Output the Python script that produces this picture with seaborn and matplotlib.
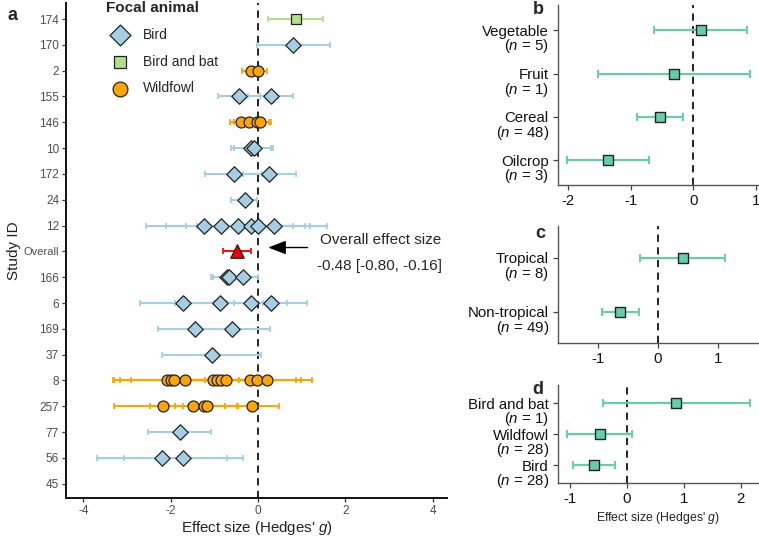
import matplotlib

matplotlib.use("Agg")

import matplotlib.pyplot as plt
import numpy as np
import pandas as pd
import seaborn as sns


# ---- panel a: study level effect sizes ----
STUDY_ROWS = ["174", "170", "2", "155", "146", "10", "172", "24", "12", "Overall",
              "166", "6", "169", "37", "8", "257", "77", "56", "45"]

point_study = (["174", "170", "2", "2", "155", "155"]
               + ["146"] * 4 + ["10", "10", "172", "172", "24"] + ["12"] * 6
               + ["166"] * 3 + ["6"] * 4 + ["169", "169", "37"] + ["8"] * 11
               + ["257"] * 5 + ["77", "56", "56"])
point_animal = (["Bird and bat", "Bird", "Wildfowl", "Wildfowl", "Bird", "Bird"]
                + ["Wildfowl"] * 4 + ["Bird"] * 5 + ["Bird"] * 6
                + ["Bird"] * 3 + ["Bird"] * 4 + ["Bird"] * 3 + ["Wildfowl"] * 11
                + ["Wildfowl"] * 5 + ["Bird"] * 3)
point_g = [0.86, 0.81, -0.15, 0.00, -0.43, 0.29,
           -0.38, -0.20, -0.03, 0.04, -0.15, -0.10, -0.56, 0.25, -0.31,
           -1.23, -0.86, -0.45, -0.17, 0.00, 0.37,
           -0.72, -0.67, -0.35, -1.71, -0.88, -0.16, 0.29,
           -1.44, -0.59, -1.06,
           -2.08, -2.00, -1.92, -1.67, -1.04, -0.94, -0.84, -0.74, -0.18, -0.03, 0.20,
           -2.17, -1.49, -1.24, -1.17, -0.13,
           -1.79, -2.20, -1.71]
point_lo = [0.23, -0.03, -0.36, -0.20, -0.92, -0.22,
            -0.65, -0.55, -0.30, -0.25, -0.61, -0.55, -1.22, -0.35, -0.61,
            -2.57, -2.12, -1.66, -1.40, -1.19, -0.85,
            -1.07, -1.04, -0.70, -2.70, -1.90, -1.00, -0.56,
            -2.30, -1.45, -2.19,
            -3.33, -3.29, -3.16, -2.91, -2.10, -1.95, -1.90, -1.80, -1.22, -1.05, -0.84,
            -3.29, -2.48, -1.73, -1.90, -0.75,
            -2.52, -3.69, -3.07]
point_hi = [1.50, 1.66, 0.05, 0.21, 0.05, 0.79,
            -0.10, 0.15, 0.25, 0.30, 0.30, 0.34, 0.10, 0.88, -0.03,
            0.11, 0.40, 0.79, 1.07, 1.19, 1.59,
            -0.37, -0.30, 0.00, -0.72, 0.12, 0.67, 1.13,
            -0.58, 0.27, 0.06,
            -0.83, -0.71, -0.68, -0.43, 0.02, 0.07, 0.22, 0.32, 0.86, 0.98, 1.24,
            -1.05, -0.49, -0.75, -0.45, 0.48,
            -1.07, -0.71, -0.35]

overall_g = -0.48
overall_lo = -0.80
overall_hi = -0.16

# ---- panels b-d: moderator estimates ----
crop_labels = ["Vegetable", "Fruit", "Cereal", "Oilcrop"]
crop_n = [5, 1, 48, 3]
crop_g = [0.12, -0.31, -0.53, -1.36]
crop_lo = [-0.63, -1.52, -0.90, -2.02]
crop_hi = [0.86, 0.90, -0.17, -0.71]

climate_labels = ["Tropical", "Non-tropical"]
climate_n = [8, 49]
climate_g = [0.41, -0.62]
climate_lo = [-0.30, -0.92]
climate_hi = [1.12, -0.31]

animal_labels = ["Bird and bat", "Wildfowl", "Bird"]
animal_n = [1, 28, 28]
animal_g = [0.86, -0.47, -0.57]
animal_lo = [-0.42, -1.05, -0.94]
animal_hi = [2.17, 0.09, -0.21]

ANIMAL_STYLE = {
    "Bird": {"face": "#A6CEE3", "bar": "#A6CEE3", "marker": "D", "size": 62},
    "Bird and bat": {"face": "#B2DF8A", "bar": "#B2DF8A", "marker": "s", "size": 48},
    "Wildfowl": {"face": "#FFA500", "bar": "#FFA500", "marker": "o", "size": 62},
}
MOD_COLOR = "#66CDAA"


def configure_style():
    sns.set_theme(style="ticks")
    plt.rcParams.update(
        {
            "font.family": ["Liberation Sans", "DejaVu Sans"],
            "mathtext.fontset": "custom",
            "mathtext.it": "Liberation Sans:italic",
            "mathtext.rm": "Liberation Sans",
            "axes.unicode_minus": False,
            "figure.facecolor": "#FFFFFF",
            "axes.facecolor": "#FFFFFF",
        }
    )


def panel_a(fig):
    ax = fig.add_axes([0.087, 0.0744, 0.5025, 0.920])
    df = pd.DataFrame(
        {
            "study": point_study,
            "animal": point_animal,
            "g": point_g,
            "lo": point_lo,
            "hi": point_hi,
        }
    )
    df["row"] = df["study"].map({s: i for i, s in enumerate(STUDY_ROWS)})

    ax.axvline(0, color="#111111", linestyle=(0, (4, 3)), linewidth=1.3, zorder=1)

    for animal, sub in df.groupby("animal"):
        st = ANIMAL_STYLE[animal]
        ax.errorbar(
            sub["g"], sub["row"],
            xerr=[sub["g"] - sub["lo"], sub["hi"] - sub["g"]],
            fmt="none", ecolor=st["bar"], elinewidth=1.5, capsize=2.2, capthick=1.3, zorder=2,
        )

    for animal in ["Bird", "Bird and bat", "Wildfowl"]:
        sub = df[df["animal"] == animal]
        st = ANIMAL_STYLE[animal]
        sns.scatterplot(
            data=sub, x="g", y="row", marker=st["marker"], s=st["size"],
            color=st["face"], edgecolor="#222222", linewidth=0.9, ax=ax, zorder=3,
            label=animal,
        )

    row_overall = STUDY_ROWS.index("Overall")
    ax.errorbar(
        [overall_g], [row_overall],
        xerr=[[overall_g - overall_lo], [overall_hi - overall_g]],
        fmt="none", ecolor="#EE1111", elinewidth=1.5, capsize=2.2, capthick=1.3, zorder=2,
    )
    ax.scatter([overall_g], [row_overall], marker="^", s=95, color="#EE0000",
               edgecolor="#222222", linewidth=0.9, zorder=4)

    ax.annotate(
        "", xy=(0.17, row_overall - 0.15), xytext=(1.2, row_overall - 0.15),
        arrowprops={"arrowstyle": "-|>,head_length=0.9,head_width=0.35", "color": "black", "lw": 1.0},
    )
    ax.text(1.41, row_overall - 0.46, "Overall effect size", fontsize=11, ha="left", va="center")
    ax.text(1.36, row_overall + 0.57, f"{overall_g:.2f} [{overall_lo:.2f}, {overall_hi:.2f}]",
            fontsize=11, ha="left", va="center")

    ax.set_xlim(-4.4, 4.34)
    ax.set_ylim(len(STUDY_ROWS) - 1 + 0.55, -0.62)
    ax.set_yticks(range(len(STUDY_ROWS)))
    ax.set_yticklabels(STUDY_ROWS)
    ax.set_xticks([-4, -2, 0, 2, 4])
    ax.tick_params(axis="both", labelsize=8.5, labelcolor="#4D4D4D", color="#333333",
                   length=3, width=0.9, pad=2)
    for lab in ax.get_yticklabels():
        if lab.get_text() == "Overall":
            lab.set_fontsize(8)
    for side in ["top", "right"]:
        ax.spines[side].set_visible(False)
    for side in ["left", "bottom"]:
        ax.spines[side].set_color("#111111")
        ax.spines[side].set_linewidth(1.4)

    ax.set_xlabel("Effect size (Hedges' $\\it{g}$)", fontsize=10.8, labelpad=1.5, color="#222222")
    ax.set_ylabel("Study ID", fontsize=11, labelpad=2, color="#222222")

    leg = ax.legend(
        title="Focal animal", loc="upper left", bbox_to_anchor=(0.106, 1.004), frameon=False,
        fontsize=10, title_fontsize=11, markerscale=1.35, handletextpad=0.6, labelspacing=0.92,
        borderaxespad=0.0, borderpad=0.0,
    )
    leg.get_title().set_fontweight("bold")
    leg._legend_box.align = "left"


def moderator_panel(fig, rect, labels, counts, g, lo, hi, xlim, xticks, row_pad, xlabel=None):
    ax = fig.add_axes(rect)
    rows = np.arange(len(labels))
    df = pd.DataFrame({"row": rows, "g": g, "lo": lo, "hi": hi})

    ax.axvline(0, color="#111111", linestyle=(0, (4, 3)), linewidth=1.3, zorder=1)
    ax.errorbar(
        df["g"], df["row"], xerr=[df["g"] - df["lo"], df["hi"] - df["g"]],
        fmt="none", ecolor=MOD_COLOR, elinewidth=1.6, capsize=3, capthick=1.4, zorder=2,
    )
    sns.scatterplot(data=df, x="g", y="row", marker="s", s=58, color=MOD_COLOR,
                    edgecolor="#222222", linewidth=1.0, ax=ax, zorder=3, legend=False)

    ax.set_xlim(*xlim)
    ax.set_ylim(len(labels) - 1 + row_pad, -row_pad)
    ax.set_xticks(xticks)
    ax.set_yticks(rows)
    ax.set_yticklabels(labels)
    ax.tick_params(axis="both", labelsize=10.8, labelcolor="#111111", color="#444444",
                   length=3.5, width=0.9, pad=3)
    for row, n in zip(rows, counts):
        ax.annotate(
            f"($\\it{{n}}$ = {n})", xy=(0, row), xycoords=("axes fraction", "data"),
            xytext=(-6.5, -11.5), textcoords="offset points", ha="right", va="center",
            fontsize=10.8, color="#111111",
        )
    for side in ["top", "right"]:
        ax.spines[side].set_visible(False)
    for side in ["left", "bottom"]:
        ax.spines[side].set_color("#555555")
        ax.spines[side].set_linewidth(1.0)
    ax.set_xlabel(xlabel if xlabel else "", fontsize=8.8, labelpad=3, color="#222222")
    ax.set_ylabel("")
    return ax


def main():
    configure_style()
    fig = plt.figure(figsize=(7.59, 5.38), dpi=100)

    panel_a(fig)
    moderator_panel(fig, [0.735, 0.656, 0.265, 0.334], crop_labels, crop_n, crop_g, crop_lo,
                    crop_hi, (-2.17, 1.05), [-2, -1, 0, 1], 0.58)
    moderator_panel(fig, [0.735, 0.362, 0.265, 0.217], climate_labels, climate_n, climate_g,
                    climate_lo, climate_hi, (-1.66, 1.68), [-1, 0, 1], 0.58)
    moderator_panel(fig, [0.735, 0.1017, 0.265, 0.182], animal_labels, animal_n, animal_g,
                    animal_lo, animal_hi, (-1.21, 2.32), [-1, 0, 1, 2], 0.58,
                    xlabel="Effect size (Hedges' $\\it{g}$)")

    for letter, (px, py) in {"a": (12, 16), "b": (538, 9), "c": (540, 233), "d": (538, 389)}.items():
        fig.text(px / 759, 1 - py / 538, letter, fontsize=13, fontweight="bold",
                 ha="center", va="center")

    fig.savefig("out.png", dpi=100, facecolor="white")
    plt.close(fig)


if __name__ == "__main__":
    main()
